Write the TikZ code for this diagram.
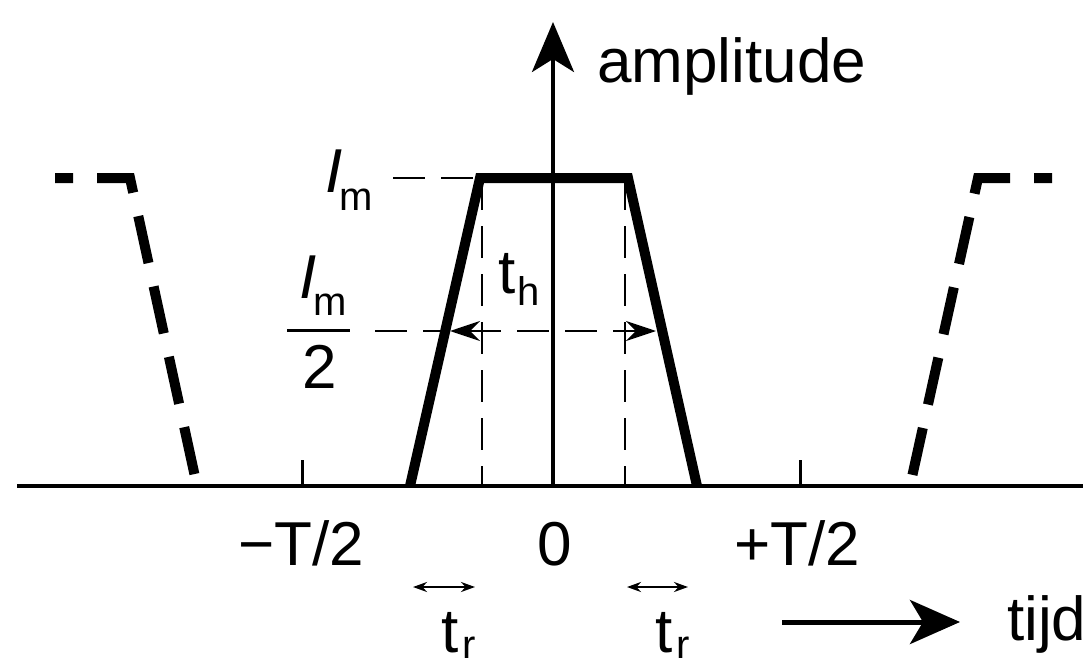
\documentclass[tikz,border=0pt]{standalone}
\usepackage{fontspec}
\setmainfont{Liberation Sans}
\usetikzlibrary{arrows.meta}
\newcommand{\subf}{\fontsize{40}{44}\selectfont}
\begin{document}
\begin{tikzpicture}[x=1pt,y=-1pt,
  lbl/.style={inner sep=0pt, font=\fontsize{62}{70}\selectfont},
  thickline/.style={line width=10pt, line join=miter},
  ghost/.style={line width=10pt, line join=miter, dash pattern=on 48pt off 24pt, dash phase=30pt},
  guide/.style={line width=2.8pt, dash pattern=on 32pt off 16pt},
  axisline/.style={line width=4pt},
  smallarrow/.style={line width=2.8pt, {Stealth[length=14pt,width=10pt]}-{Stealth[length=14pt,width=10pt]}},
]
\useasboundingbox (0,0) rectangle (1090,669);
% coordinates
\coordinate (bl) at (17,486);
\coordinate (br) at (1083,486);
\coordinate (o) at (553,486);
\coordinate (top) at (553,22);
\coordinate (p1) at (410,486);
\coordinate (p2) at (480,178);
\coordinate (p3) at (628,178);
\coordinate (p4) at (697,486);
\coordinate (g1t) at (482,178);
\coordinate (g1b) at (482,486);
\coordinate (g2t) at (625,178);
\coordinate (g2b) at (625,486);
\coordinate (imdash) at (393,178);
\coordinate (hstart) at (375,331);
\coordinate (hL) at (450,331);
\coordinate (hR) at (656,331);
\coordinate (l1) at (55,178);
\coordinate (l2) at (130,178);
\coordinate (l3) at (197,486);
\coordinate (r1) at (1052,178);
\coordinate (r2) at (978,178);
\coordinate (r3) at (910,486);
\coordinate (t1a) at (302,486);
\coordinate (t1b) at (302,460);
\coordinate (t2a) at (800,486);
\coordinate (t2b) at (800,460);
\coordinate (sa1) at (413,587);
\coordinate (sa2) at (475,587);
\coordinate (sb1) at (627,587);
\coordinate (sb2) at (688,587);
\coordinate (ta) at (782,622);
\coordinate (tb) at (960,622);
\coordinate (fb1) at (287,330);
\coordinate (fb2) at (350,330);

% guides
\draw[guide] (g1t) -- (g1b);
\draw[guide] (g2t) -- (g2b);
\draw[guide] (imdash) -- (p2);
\draw[guide] (hstart) -- (hL);
\draw[guide, {Stealth[length=30pt,width=20pt]}-{Stealth[length=30pt,width=20pt]}] (hL) -- (hR);

% baseline and axis
\draw[axisline] (bl) -- (br);
\draw[axisline, -{Stealth[length=50pt,width=42pt,inset=13pt]}] (o) -- (top);
\draw[line width=3pt] (t1a) -- (t1b);
\draw[line width=3pt] (t2a) -- (t2b);

% pulse
\draw[thickline] (p1) -- (p2) -- (p3) -- (p4);
\draw[ghost] (l1) -- (l2) -- (l3);
\draw[ghost] (r1) -- (r2) -- (r3);

% fraction bar
\draw[line width=3pt] (fb1) -- (fb2);

% small arrows
\draw[smallarrow] (sa1) -- (sa2);
\draw[smallarrow] (sb1) -- (sb2);
\draw[line width=5pt, -{Stealth[length=50pt,width=44pt,inset=13pt]}] (ta) -- (tb);

% labels
\node[lbl, anchor=base west] (amp) at (597,82) {amplitude};
\node[lbl, anchor=base west] (tijd) at (1007,640) {tijd};
\node[lbl, anchor=base] (mT) at (301,565) {−T/2};
\node[lbl, anchor=base] (zero) at (555,565) {0};
\node[lbl, anchor=base] (pT) at (797,565) {+T/2};
\node[lbl, anchor=base west] (Im) at (325,192) {\itshape I\upshape\kern-3pt\raisebox{-18pt}{\subf m}};
\node[lbl, anchor=base west] (Imh) at (299,298) {\itshape I\upshape\kern-3pt\raisebox{-17pt}{\subf m}};
\node[lbl, anchor=base] (two) at (320,388) {2};
\node[lbl, anchor=base west] (th) at (498,293) {t\kern2pt\raisebox{-12pt}{\subf h}};
\node[lbl, anchor=base west] (tr1) at (441,652) {t\kern4pt\raisebox{-6pt}{\subf r}};
\node[lbl, anchor=base west] (tr2) at (655,652) {t\kern4pt\raisebox{-6pt}{\subf r}};
\end{tikzpicture}
\end{document}
